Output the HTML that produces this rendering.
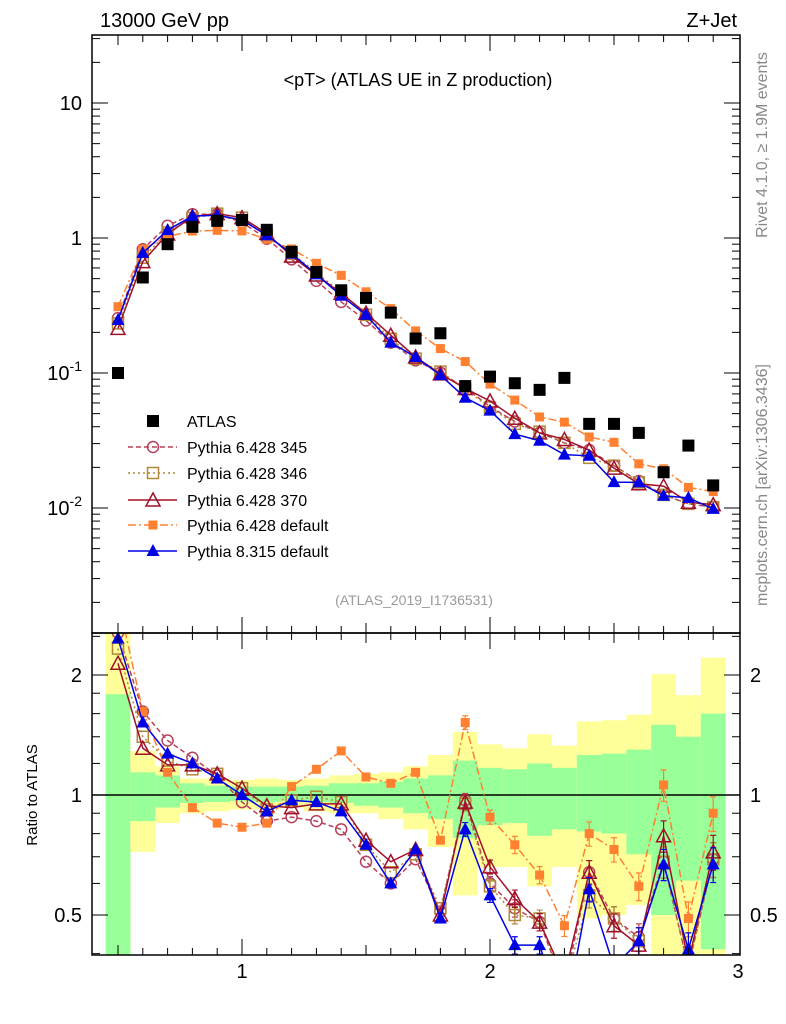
<!DOCTYPE html>
<html><head><meta charset="utf-8"><style>
html,body{margin:0;padding:0;background:#fff;}
svg{display:block;font-family:"Liberation Sans",sans-serif;}
</style></head><body>
<svg id="chart" width="786" height="1024" viewBox="0 0 786 1024" xmlns="http://www.w3.org/2000/svg">
<defs>
<clipPath id="cm"><rect x="92" y="35" width="648" height="598"/></clipPath>
<clipPath id="cr"><rect x="92" y="633" width="648" height="322"/></clipPath>
</defs>
<g id="bands" clip-path="url(#cr)"></g>
<g id="main" clip-path="url(#cm)"></g>
<g id="ratio" clip-path="url(#cr)"></g>
<g id="axes"></g>
<text x="100" y="27" font-size="20">13000 GeV pp</text>
<text x="737" y="27" font-size="20" text-anchor="end">Z+Jet</text>
<text x="418" y="86" font-size="18" text-anchor="middle">&lt;pT&gt; (ATLAS UE in Z production)</text>
<text x="414" y="605" font-size="14" fill="#999" text-anchor="middle">(ATLAS_2019_I1736531)</text>
<text transform="translate(767,145) rotate(-90)" font-size="16" fill="#888" text-anchor="middle">Rivet 4.1.0, ≥ 1.9M events</text>
<text transform="translate(767,485) rotate(-90)" font-size="16" fill="#888" text-anchor="middle">mcplots.cern.ch [arXiv:1306.3436]</text>
<text transform="translate(37,795) rotate(-90)" font-size="15" text-anchor="middle">Ratio to ATLAS</text>
<g id="legend"></g>
</svg>
<script>
const xs = [0.5,0.6,0.7,0.8,0.9,1.0,1.1,1.2,1.3,1.4,1.5,1.6,1.7,1.8,1.9,2.0,2.1,2.2,2.3,2.4,2.5,2.6,2.7,2.8,2.9];
const atlas = [0.1,0.51,0.90,1.21,1.34,1.36,1.15,0.79,0.56,0.41,0.36,0.28,0.18,0.197,0.080,0.094,0.084,0.075,0.092,0.042,0.042,0.036,0.0184,0.029,0.0147];
const r345 = [2.55,1.62,1.37,1.24,1.12,0.96,0.86,0.88,0.86,0.82,0.68,0.60,0.69,0.51,0.97,0.60,0.52,0.48,0.33,0.64,0.49,0.44,0.68,0.37,0.69];
const r346 = [2.33,1.40,1.22,1.16,1.13,1.04,0.92,0.97,0.99,0.96,0.75,0.64,0.71,0.52,0.95,0.59,0.50,0.49,0.33,0.56,0.49,0.43,0.68,0.37,0.69];
const r370 = [2.14,1.31,1.19,1.19,1.13,1.04,0.94,0.93,0.95,0.95,0.77,0.68,0.73,0.50,0.96,0.66,0.55,0.48,0.35,0.64,0.47,0.42,0.79,0.38,0.72];
const rP6def = [3.1,1.62,1.14,0.93,0.85,0.83,0.85,1.05,1.16,1.29,1.11,1.07,1.14,0.77,1.52,0.88,0.75,0.63,0.47,0.80,0.73,0.59,1.06,0.49,0.90];
const rP8 = [2.47,1.52,1.27,1.20,1.10,1.00,0.91,0.97,0.96,0.91,0.75,0.60,0.73,0.49,0.82,0.56,0.42,0.42,0.27,0.58,0.37,0.43,0.67,0.41,0.67];
const statUp = [1.79,1.14,1.12,1.07,1.055,1.05,1.05,1.05,1.055,1.07,1.07,1.08,1.10,1.12,1.22,1.17,1.16,1.20,1.17,1.26,1.27,1.30,1.50,1.40,1.60];
const statDn = [0.3,0.86,0.93,0.955,0.96,0.965,0.96,0.965,0.96,0.955,0.94,0.93,0.90,0.87,0.78,0.84,0.85,0.79,0.82,0.81,0.80,0.71,0.50,0.61,0.41];
const totUp = [2.7,1.29,1.18,1.10,1.10,1.09,1.10,1.09,1.10,1.12,1.13,1.14,1.18,1.26,1.44,1.34,1.31,1.42,1.33,1.53,1.54,1.59,2.01,1.78,2.21];
const totDn = [0.3,0.72,0.85,0.90,0.91,0.92,0.92,0.93,0.91,0.90,0.90,0.87,0.82,0.74,0.56,0.66,0.66,0.59,0.66,0.49,0.50,0.53,0.3,0.3,0.3];
const errRel = [0.01,0.01,0.01,0.01,0.01,0.01,0.01,0.01,0.01,0.01,0.02,0.02,0.02,0.03,0.04,0.04,0.05,0.05,0.06,0.07,0.07,0.08,0.09,0.1,0.1];

const NS="http://www.w3.org/2000/svg";
const X = v => -6 + 248*v;
const YM = v => 238 - 135*Math.log10(v);
const YR = v => 795 - 120*Math.log2(v);
function mk(tag, attrs, parent){const e=document.createElementNS(NS,tag);for(const k in attrs)e.setAttribute(k,attrs[k]);parent.appendChild(e);return e;}
const gB=document.getElementById('bands'), gM=document.getElementById('main'), gR=document.getElementById('ratio'), gA=document.getElementById('axes'), gL=document.getElementById('legend');

xs.forEach((x,i)=>{
  const x0=X(x-0.05), w=X(x+0.05)-x0;
  let r=mk('rect',{x:x0,y:YR(totUp[i]),width:w,height:YR(totDn[i])-YR(totUp[i]),fill:'#ffff99'},gB);
  
  
  r=mk('rect',{x:x0,y:YR(statUp[i]),width:w,height:YR(statDn[i])-YR(statUp[i]),fill:'#99ff99'},gB);
  
  
});
let l1=mk('line',{x1:92,x2:740,y1:YR(1),y2:YR(1),stroke:'#000','stroke-width':1.5},gB);



function marker(type,color,cx,cy,g){
  let e;
  if(type==='sq') e=mk('rect',{x:cx-6,y:cy-6,width:12,height:12,fill:'#000'},g);
  else if(type==='osq') e=mk('rect',{x:cx-5.5,y:cy-5.5,width:11,height:11,fill:'none',stroke:color,'stroke-width':1.5},g);
  else if(type==='fsq') e=mk('rect',{x:cx-4.5,y:cy-4.5,width:9,height:9,fill:color},g);
  else if(type==='oc') e=mk('circle',{cx:cx,cy:cy,r:5.5,fill:'none',stroke:color,'stroke-width':1.5},g);
  else if(type==='otri') e=mk('polygon',{points:`${cx},${cy-7} ${cx-7},${cy+6} ${cx+7},${cy+6}`,fill:'none',stroke:color,'stroke-width':1.5},g);
  else e=mk('polygon',{points:`${cx},${cy-7} ${cx-6.5},${cy+5} ${cx+6.5},${cy+5}`,fill:color},g);
  return e;
}
const series=[
 {name:'Pythia 6.428 345',r:r345,color:'#b8405a',dash:'5,3',m:'oc'},
 {name:'Pythia 6.428 346',r:r346,color:'#b08838',dash:'2,3',m:'osq'},
 {name:'Pythia 6.428 370',r:r370,color:'#a01028',dash:'',m:'otri'},
 {name:'Pythia 6.428 default',r:rP6def,color:'#ff8030',dash:'8,3,2,3',m:'fsq'},
 {name:'Pythia 8.315 default',r:rP8,color:'#0000e6',dash:'',m:'ftri'}
];
series.forEach(s=>{
  const ptsM=xs.map((x,i)=>`${X(x)},${YM(s.r[i]*atlas[i])}`).join(' ');
  const ptsR=xs.map((x,i)=>`${X(x)},${YR(s.r[i])}`).join(' ');
  [[gM,ptsM],[gR,ptsR]].forEach(([g,pts],k)=>{
    const pl=mk('polyline',{points:pts,fill:'none',stroke:s.color,'stroke-width':1.5,'stroke-dasharray':s.dash},g);
    
    
    xs.forEach((x,i)=>{
      const v = k===0 ? s.r[i]*atlas[i] : s.r[i];
      const Y = k===0 ? YM : YR;
      const e=errRel[i]*v;
      if(k===1 && errRel[i]>=0.04){
        const eb=mk('path',{d:`M${X(x)},${Y(v-e)}V${Y(v+e)}M${X(x)-3},${Y(v-e)}h6M${X(x)-3},${Y(v+e)}h6`,stroke:s.color,'stroke-width':1.2,fill:'none'},g);
        
        
      }
      const m=marker(s.m,s.color,X(x),Y(v),g);
      
      
    });
  });
});
xs.forEach((x,i)=>{
  const m=marker('sq','#000',X(x),YM(atlas[i]),gM);
  
  
});

[[35,633],[633,955]].forEach(([t,b])=>{
  const f=mk('rect',{x:92,y:t,width:648,height:b-t,fill:'none',stroke:'#000','stroke-width':1.5},gA);
  
  
  for(let k=5;k<=29;k++){
    const v=k/10, px=X(v); if(px<92||px>740) continue;
    const len = k%10===0?16:(k%5===0?10:7);
    mk('line',{x1:px,x2:px,y1:t,y2:t+len,stroke:'#000','stroke-width':1},gA);
    mk('line',{x1:px,x2:px,y1:b,y2:b-len,stroke:'#000','stroke-width':1},gA);
  }
});
for(let d=-3;d<=1;d++){
  for(let m=1;m<=9;m++){
    const v=m*Math.pow(10,d), y=YM(v); if(y<35||y>633) continue;
    const len=m===1?16:8;
    mk('line',{x1:92,x2:92+len,y1:y,y2:y,stroke:'#000'},gA);
    mk('line',{x1:740,x2:740-len,y1:y,y2:y,stroke:'#000'},gA);
  }
}
[[10,'10'],[1,'1']].forEach(([v,t])=>{const e=mk('text',{x:82,y:YM(v)+7,'font-size':20,'text-anchor':'end'},gA);e.textContent=t;});
[[0.1,'-1'],[0.01,'-2']].forEach(([v,p])=>{const e=mk('text',{x:82,y:YM(v)+7,'font-size':20,'text-anchor':'end'},gA);e.innerHTML=`10<tspan dy="-9" font-size="14">${p}</tspan>`;});
[0.4,0.5,0.6,0.7,0.8,0.9,1,1.2,1.4,1.6,1.8,2,2.5].forEach(v=>{
  const y=YR(v); if(y<633||y>955) return;
  const len=(v===0.5||v===1||v===2)?16:8;
  mk('line',{x1:92,x2:92+len,y1:y,y2:y,stroke:'#000'},gA);
  mk('line',{x1:740,x2:740-len,y1:y,y2:y,stroke:'#000'},gA);
});
[[2,'2'],[1,'1'],[0.5,'0.5']].forEach(([v,t])=>{
  let e=mk('text',{x:82,y:YR(v)+7,'font-size':20,'text-anchor':'end'},gA);e.textContent=t;
  
  e=mk('text',{x:750,y:YR(v)+7,'font-size':20},gA);e.textContent=t;
  
});
[1,2,3].forEach(v=>{const e=mk('text',{x:X(v),y:978,'font-size':20,'text-anchor':'middle'},gA);e.textContent=String(v);});

const legY=[421,447,473,500,525,551];
let lm=marker('sq','#000',153,legY[0],gL);


let lt=mk('text',{x:187,y:legY[0]+6,'font-size':16},gL);lt.textContent='ATLAS';


series.forEach((s,i)=>{
  const y=legY[i+1];
  mk('line',{x1:128,x2:177,y1:y,y2:y,stroke:s.color,'stroke-width':1.5,'stroke-dasharray':s.dash},gL);
  const m=marker(s.m,s.color,153,y,gL);
  
  
  const t=mk('text',{x:187,y:y+6,'font-size':16},gL);t.textContent=s.name;
  
  
});
</script>
</body></html>
